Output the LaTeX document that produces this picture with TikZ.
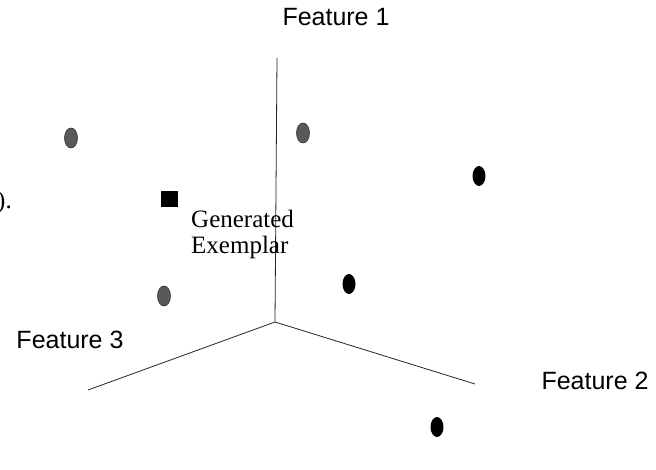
\documentclass[tikz,border=0pt]{standalone}
\usepackage{fontspec}
\setmainfont{Liberation Serif}
\newfontfamily\labelsans{Liberation Sans}
\usetikzlibrary{shapes.geometric}
\tikzset{
  axisline/.style={draw=black!85, line width=0.8pt},
  graydot/.style={ellipse, fill=black!65, draw=black!80, line width=0.6pt, minimum width=13pt, minimum height=20pt, inner sep=0pt},
  blackdot/.style={ellipse, fill=black, minimum width=13pt, minimum height=20pt, inner sep=0pt},
  exemplar/.style={rectangle, fill=black, minimum width=17pt, minimum height=16pt, inner sep=0pt},
  featlabel/.style={font=\labelsans\fontsize{25}{29}\selectfont, inner sep=0pt},
  seriflabel/.style={font=\fontsize{25}{26}\selectfont, inner sep=0pt, align=left}
}
\begin{document}
\begin{tikzpicture}[x=1pt,y=-1pt]
\useasboundingbox (0,0) rectangle (656,470);
% axes
\coordinate (o) at (275,322);
\coordinate (top) at (277,58);
\coordinate (left) at (88,390);
\coordinate (right) at (475,384);
\draw[axisline] (o) -- (top);
\draw[axisline] (o) -- (left);
\draw[axisline] (o) -- (right);
% labels
\node[featlabel] (f1) at (336,17) {Feature 1};
\node[featlabel] (f3) at (70,340) {Feature 3};
\node[featlabel] (f2) at (595,381) {Feature 2};
% points
\node[graydot] (g1) at (71,138) {};
\node[graydot] (g2) at (303,133) {};
\node[graydot] (g3) at (164,296) {};
\node[blackdot] (b1) at (479,176) {};
\node[blackdot] (b2) at (349,284) {};
\node[blackdot] (b3) at (437,427) {};
\node[exemplar] (ex) at (169,199) {};
\node[seriflabel, anchor=north west] (exlabel) at (191,210) {Generated\\Exemplar};
\node[seriflabel, anchor=base west] (frag) at (-3,209) {).};
\end{tikzpicture}
\end{document}
